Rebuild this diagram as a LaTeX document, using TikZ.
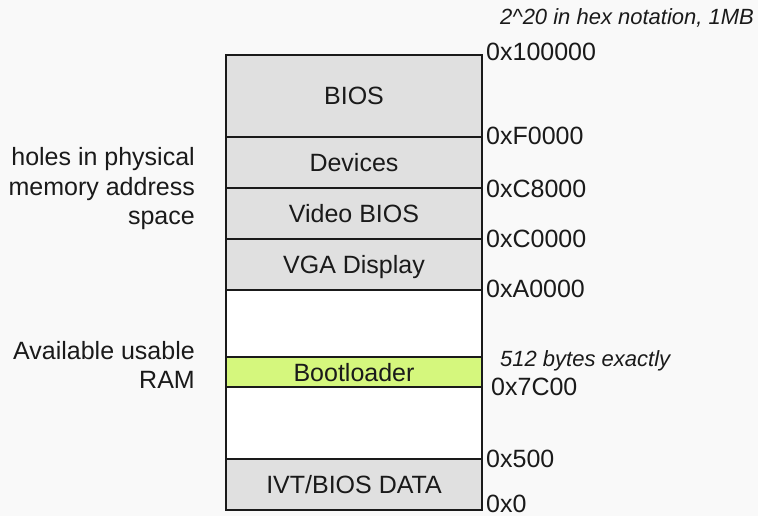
\documentclass[tikz,border=0pt]{standalone}
\usepackage{fontspec}
\setmainfont{Liberation Sans}
\definecolor{bgcol}{HTML}{F9F9F9}
\definecolor{memgray}{HTML}{E0E0E0}
\definecolor{bootgreen}{HTML}{D5F77D}
\definecolor{txt}{HTML}{1A1A1A}
\begin{document}
\begin{tikzpicture}[x=1pt,y=-1pt,
  region/.style={draw=txt, line width=1.7pt, minimum width=256pt, inner sep=0pt,
    text height=18pt, text depth=0pt, text=txt, font=\fontsize{25}{29}\selectfont},
  addr/.style={anchor=base west, inner sep=0pt, text=txt, font=\fontsize{25}{29}\selectfont},
  note/.style={anchor=base west, inner sep=0pt, text=txt, font=\fontsize{22}{26}\selectfont\itshape},
  side/.style={anchor=base east, inner sep=0pt, text=txt, font=\fontsize{25}{29}\selectfont}]
\useasboundingbox (0,0) rectangle (758,516);
\fill[bgcol] (0,0) rectangle (758,516);
% memory regions
\node[region, fill=memgray, minimum height=82pt] (bios) at (354,96) {BIOS};
\node[region, fill=memgray, minimum height=51pt] (dev) at (354,162.5) {Devices};
\node[region, fill=memgray, minimum height=51pt] (vbios) at (354,213.5) {Video BIOS};
\node[region, fill=memgray, minimum height=51pt] (vga) at (354,264.5) {VGA Display};
\node[region, fill=white, minimum height=67pt] (free1) at (354,323.5) {};
\node[region, fill=bootgreen, minimum height=30pt] (boot) at (354,372) {Bootloader};
\node[region, fill=white, minimum height=72pt] (free2) at (354,423) {};
\node[region, fill=memgray, minimum height=51pt] (ivt) at (354,484.5) {IVT/BIOS DATA};
% addresses
\node[addr] (a1) at (486,61) {0x100000};
\node[addr] (a2) at (486,145) {0xF0000};
\node[addr] (a3) at (486,197) {0xC8000};
\node[addr] (a4) at (486,247) {0xC0000};
\node[addr] (a5) at (486,297) {0xA0000};
\node[addr] (a6) at (491,395) {0x7C00};
\node[addr] (a7) at (486,467) {0x500};
\node[addr] (a8) at (486,512) {0x0};
% notes
\node[note] (n1) at (500,25) {2\^{}20 in hex notation, 1MB};
\node[note] (n2) at (500,366) {512 bytes exactly};
% side labels
\node[side] (s1) at (195,166) {holes in physical};
\node[side] (s2) at (195,195) {memory address};
\node[side] (s3) at (195,224) {space};
\node[side] (s4) at (195,359) {Available usable};
\node[side] (s5) at (195,388) {RAM};
\end{tikzpicture}
\end{document}
